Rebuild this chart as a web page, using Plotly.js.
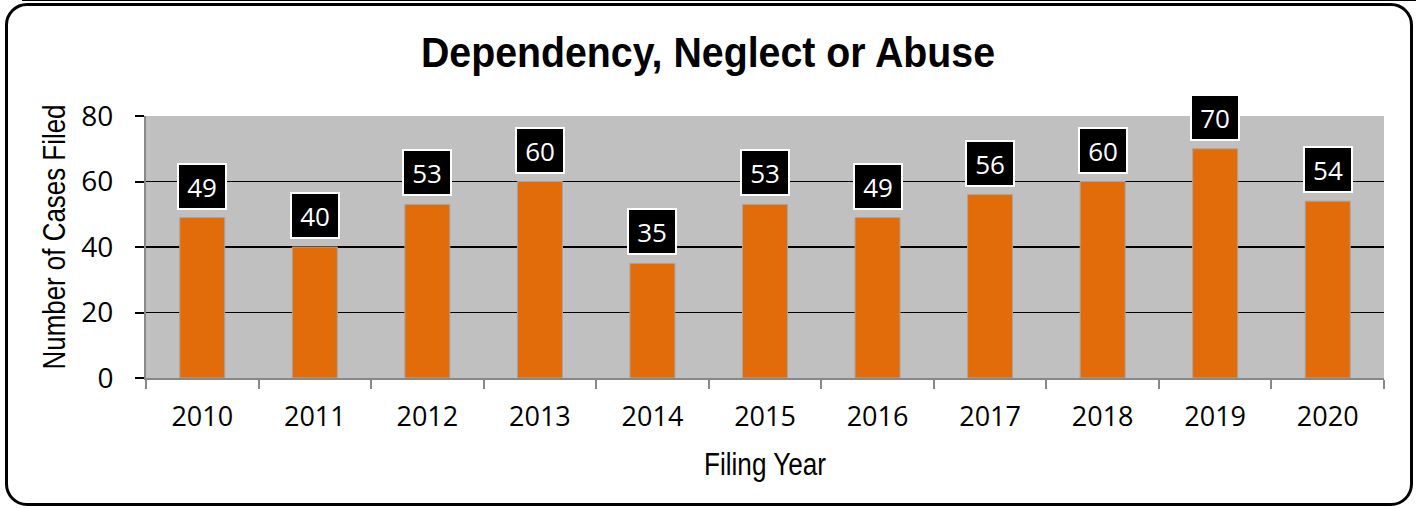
<!DOCTYPE html>
<html>
<head>
<meta charset="utf-8">
<script src="https://cdn.plot.ly/plotly-3.0.1.min.js"></script>
<style>
  html, body { margin: 0; padding: 0; background: #ffffff; }
  #wrap { position: relative; width: 1416px; height: 508px; overflow: hidden; }
  #chart { position: absolute; left: 0; top: 0; width: 1416px; height: 508px; }
  #frame { position: absolute; left: 5px; top: 3px; width: 1402px; height: 497px;
           border: 3px solid #000; border-radius: 22px; pointer-events: none; }
  #topline { position: absolute; left: 22px; top: 0px; width: 1394px; height: 1px; background: #000; }
</style>
</head>
<body>
<div id="wrap">
  <div id="chart"></div>
  <div id="topline"></div>
  <div id="frame"></div>
</div>
<script>
const years = ['2010','2011','2012','2013','2014','2015','2016','2017','2018','2019','2020'];
const cases = [49, 40, 53, 60, 35, 53, 49, 56, 60, 70, 54];
const yTicks = [0, 20, 40, 60, 80];
const titleText = 'Dependency, Neglect or Abuse';
const xTitle = 'Filing Year';
const yTitle = 'Number of Cases Filed';

const labelFont = 'Open Sans, Noto Sans, sans-serif';
const narrowFont = 'Liberation Sans, Arial, sans-serif';

const trace = {
  type: 'bar',
  x: years,
  y: cases,
  marker: { color: '#e36c0a', line: { color: '#a6a6a6', width: 1 } },
  hoverinfo: 'x+y'
};

const annotations = years.map((yr, i) => ({
  x: i, y: cases[i], xref: 'x', yref: 'y',
  text: String(cases[i]),
  showarrow: false,
  yanchor: 'bottom', xanchor: 'center',
  yshift: 8,
  font: { family: labelFont, size: 26, color: '#ffffff' },
  bgcolor: '#000000',
  bordercolor: '#ffffff',
  borderwidth: 2,
  borderpad: 1,
  width: 44,
  height: 41
}));

const layout = {
  width: 1416, height: 508,
  margin: { l: 146, r: 32, t: 116, b: 130, pad: 0 },
  paper_bgcolor: '#ffffff',
  plot_bgcolor: '#c0c0c0',
  bargap: 0.6,
  showlegend: false,
  title: {
    text: '<b>' + titleText + '</b>',
    font: { family: narrowFont, size: 42, color: '#000' },
    x: 0.5, xanchor: 'center', xref: 'container',
    y: 1 - 52/508, yanchor: 'middle', yref: 'container'
  },
  xaxis: {
    type: 'category',
    categoryorder: 'array', categoryarray: years,
    range: [-0.5, years.length - 0.5],
    autorange: false,
    tickson: 'boundaries',
    ticks: 'outside', ticklen: 9, tickwidth: 2, tickcolor: '#888888',
    showline: true, linecolor: '#888888', linewidth: 2,
    showgrid: false, zeroline: false,
    tickangle: 0,
    ticklabelstandoff: 14,
    tickfont: { family: labelFont, size: 27, color: '#000' },
    title: { text: xTitle, font: { family: narrowFont, size: 31, color: '#000' }, standoff: 20 }
  },
  yaxis: {
    range: [0, 80],
    autorange: false,
    tickmode: 'array', tickvals: yTicks, ticktext: yTicks.map(String),
    ticks: 'outside', ticklen: 9, tickwidth: 2, tickcolor: '#000000',
    showline: true, linecolor: '#888888', linewidth: 2,
    showgrid: true, gridcolor: '#000000', gridwidth: 1.5,
    zeroline: false,
    ticklabelstandoff: 16,
    tickfont: { family: labelFont, size: 28, color: '#000' },
    title: { text: yTitle, font: { family: narrowFont, size: 31, color: '#000' }, standoff: 7 }
  },
  annotations: annotations
};

function squeeze(sel, width) {
  document.querySelectorAll(sel).forEach(t => {
    t.setAttribute('textLength', width);
    t.setAttribute('lengthAdjust', 'spacingAndGlyphs');
  });
}

Plotly.newPlot('chart', [trace], layout, { displayModeBar: false, staticPlot: true }).then(() => {
  squeeze('.gtitle', 574);
  squeeze('.g-xtitle text', 122);
  squeeze('.g-ytitle text', 265);
  const yt = document.querySelector('.g-ytitle');
  if (yt) yt.setAttribute('transform', 'translate(0,-10)');
});
</script>
</body>
</html>
